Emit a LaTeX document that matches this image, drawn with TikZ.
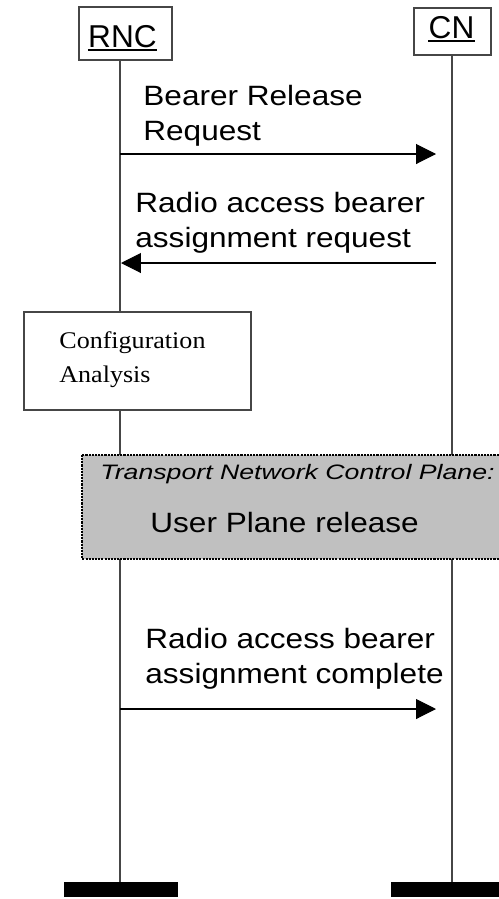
\documentclass[tikz,border=0pt]{standalone}
\usepackage{fontspec}
\setmainfont{Liberation Serif}
\newfontfamily\arialfont{Liberation Sans}
\usetikzlibrary{arrows.meta}
\definecolor{planegray}{RGB}{192,192,192}
\definecolor{linegray}{RGB}{70,70,70}
\tikzset{
  entity/.style={draw=linegray, line width=0.6pt, inner sep=0pt},
  entitytext/.style={anchor=base, inner sep=0pt,
    font=\arialfont\fontsize{18}{21}\selectfont},
  nameline/.style={line width=1.2pt},
  lifeline/.style={draw=linegray, line width=0.6pt},
  msg/.style={-{Triangle[length=0.4cm,width=0.4cm]}, line width=0.6pt},
  msgtext/.style={anchor=base west, inner sep=0pt, align=left, xscale=1.13,
    font=\arialfont\fontsize{15.9}{19.8}\selectfont},
  actionbox/.style={draw=linegray, fill=white, line width=0.6pt},
  actiontext/.style={anchor=base west, inner sep=0pt, align=left, xscale=1.09,
    font=\fontsize{13.6}{19.3}\selectfont},
  planebox/.style={draw=black, fill=planegray, line width=0.6pt, dash pattern=on 1.2pt off 0.6pt},
  endbar/.style={fill=black}
}
\begin{document}
\begin{tikzpicture}[x=0.02cm, y=-0.02cm]
  \useasboundingbox (0,0) rectangle (499,899);

  % entities
  \node[entity, minimum width=1.86cm, minimum height=1.06cm] (rnc) at (125.5,33.5) {};
  \node[entitytext] (rncname) at (122.5,47) {RNC};
  \draw[nameline] ([yshift=-1.5pt]rncname.base west) -- ([yshift=-1.5pt]rncname.base east);
  \node[entity, minimum width=1.54cm, minimum height=0.94cm] (cn) at (452.5,31.5) {};
  \node[entitytext] (cnname) at (451.5,38) {CN};
  \draw[nameline] ([yshift=-1.5pt]cnname.base west) -- ([yshift=-1.5pt]cnname.base east);

  % lifelines
  \coordinate (rncEnd) at (120,882);
  \coordinate (cnEnd) at (452,882);
  \draw[lifeline] (rnc.south -| rncEnd) -- (rncEnd);
  \draw[lifeline] (cn.south -| cnEnd) -- (cnEnd);

  % bearer release request
  \coordinate (rnc1) at (120,154);
  \coordinate (cn1) at (436,154);
  \node[msgtext] (m1) at (143,140) {Bearer Release\\Request};
  \draw[msg] (rnc1) -- (cn1);

  % assignment request
  \coordinate (cn2) at (436,263);
  \coordinate (rnc2) at (121,263);
  \node[msgtext] (m2) at (135,247) {Radio access bearer\\assignment request};
  \draw[msg] (cn2) -- (rnc2);

  % configuration analysis
  \draw[actionbox] (24,312) rectangle (251,410);
  \node[actiontext] (conf) at (59,382) {Configuration\\Analysis};

  % transport network control plane
  \draw[planebox] (82,455) rectangle (520,559);
  \node[msgtext, xscale=1.13, font=\arialfont\itshape\fontsize{11.9}{14}\selectfont] (tncp) at (100,479) {Transport Network Control Plane:};
  \node[msgtext] (uprel) at (150,532) {User Plane release};

  % assignment complete
  \coordinate (rnc3) at (120,709);
  \coordinate (cn3) at (436,709);
  \node[msgtext] (m3) at (145,683) {Radio access bearer\\assignment complete};
  \draw[msg] (rnc3) -- (cn3);

  % end bars
  \fill[endbar] (64,882) rectangle (178,897);
  \fill[endbar] (391,882) rectangle (520,897);
\end{tikzpicture}
\end{document}
